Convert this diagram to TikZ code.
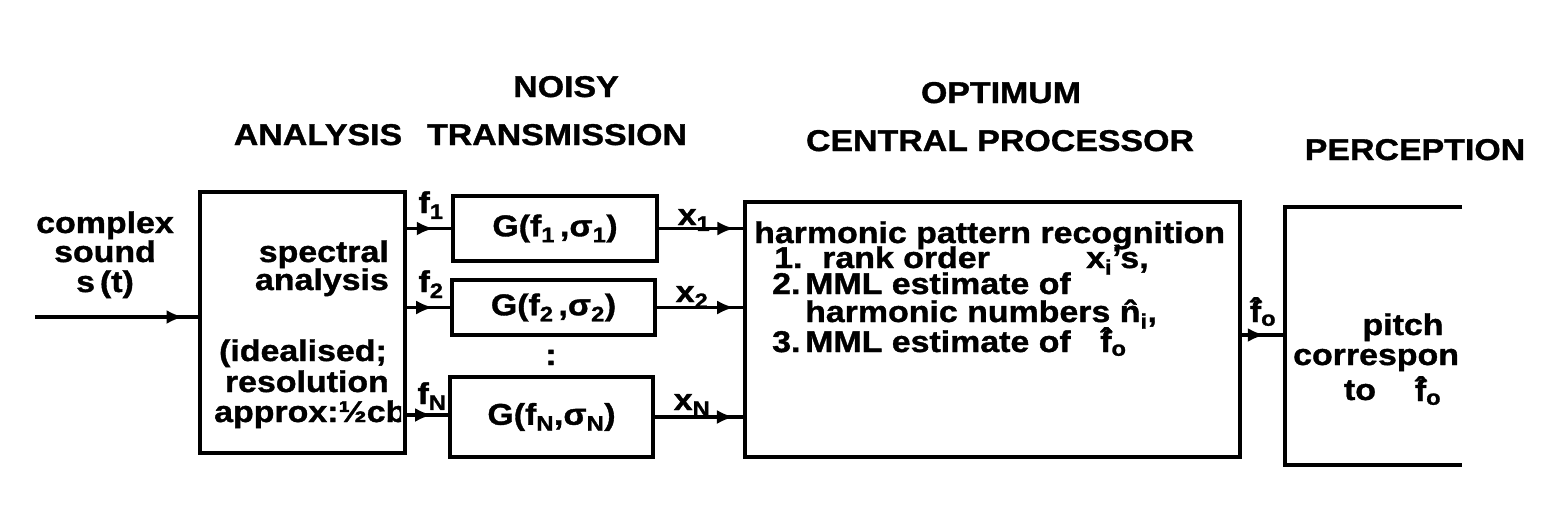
\documentclass[tikz,border=0pt]{standalone}
\usepackage{fontspec}
\setmainfont{Liberation Sans}[FakeStretch=1.13, BoldFeatures={FakeBold=1.2}]
\usetikzlibrary{arrows.meta,decorations.markings}
\newcommand\hatted[2]{\setbox0\hbox{#1}\rlap{\hbox to \wd0{\hss\raisebox{#2}{\char"02C6}\hss}}\box0}
\newcommand\hatf{\hatted{f}{0.08em}}
\newcommand\hatn{\hatted{n}{0pt}}
\begin{document}
\begin{tikzpicture}[x=1pt,y=-1pt,
  box/.style={draw, line width=4.5pt, inner sep=0pt, outer sep=0pt},
  lbl/.style={font=\fontsize{30}{26}\selectfont\bfseries, inner sep=0pt, anchor=base},
  hd/.style={font=\fontsize{30}{26}\selectfont\bfseries, inner sep=0pt, anchor=base},
  arr/.style={line width=3.8pt, postaction={decorate},
    decoration={markings, mark=at position #1 with {\arrow{Latex[length=17pt,width=14pt]}}}},
]
\useasboundingbox (0,0) rectangle (1551,507);

% headings
\node[hd] (hnoisy) at (566,97) {NOISY};
\node[hd] (hana) at (318,145) {ANALYSIS};
\node[hd] (htrans) at (557,145) {TRANSMISSION};
\node[hd] (hopt) at (1001,103) {OPTIMUM};
\node[hd] (hcent) at (1000,151) {CENTRAL PROCESSOR};
\node[hd] (hperc) at (1415,160) {PERCEPTION};

% boxes
\node[box, minimum width=205pt, minimum height=261pt] (ana) at (302.5,322.5) {};
\node[box, minimum width=204pt, minimum height=65pt] (g1) at (555,228.5) {};
\node[box, minimum width=203pt, minimum height=55pt] (g2) at (553.5,307.5) {};
\node[box, minimum width=203pt, minimum height=80pt] (gN) at (551.5,417) {};
\node[box, minimum width=495pt, minimum height=255pt] (proc) at (992.5,329.5) {};
\node[inner sep=0pt, outer sep=0pt, minimum width=177pt, minimum height=258pt] (perc) at (1373.5,336) {};
\draw[line width=4.5pt] (perc.north east) -- (perc.north west) -- (perc.south west) -- (perc.south east);

% input
\node[lbl] (in1) at (105,233) {complex};
\node[lbl] (in2) at (105,262) {sound};
\node[lbl] (in3) at (105,292) {s\,(t)};
\coordinate (src) at (35,317);
\draw[arr=0.9] (src) -- (src -| ana.west);

% analysis text
\node[lbl, anchor=base east] (a1) at (389,262) {spectral};
\node[lbl, anchor=base east] (a2) at (389,290) {analysis};
\node[lbl, anchor=base east] (a3) at (387,361) {(idealised;};
\node[lbl, anchor=base east] (a4) at (389,392) {resolution};
\begin{scope}
\clip (200,395) rectangle (401,440);
\node[lbl, anchor=base west] (a5) at (214,422) {approx:½cb};
\end{scope}

% f arrows
\draw[arr=0.6] (ana.east |- g1.west) -- (g1.west);
\draw[arr=0.6] (ana.east |- g2.west) -- (g2.west);
\draw[arr=0.6] ([yshift=2pt]ana.east |- gN.west) -- ([yshift=2pt]gN.west);
\node[lbl] (lf1) at (431,213) {f\textsubscript{1}};
\node[lbl] (lf2) at (431,292) {f\textsubscript{2}};
\node[lbl] (lfN) at (432,404) {f\textsubscript{N}};

% G texts
\node[lbl, anchor=center] (t1) at (g1) {G(f\textsubscript{1}\,,σ\textsubscript{1})};
\node[lbl, anchor=center] (t2) at (g2) {G(f\textsubscript{2}\,,σ\textsubscript{2})};
\node[lbl, anchor=center] (tN) at (gN) {G(f\textsubscript{N},σ\textsubscript{N})};
\node[lbl] (dots) at (551,365) {:};

% x arrows
\draw[arr=0.88] (g1.east) -- (g1.east -| proc.west);
\draw[arr=0.88] (g2.east) -- (g2.east -| proc.west);
\draw[arr=0.88] (gN.east) -- (gN.east -| proc.west);
\node[lbl] (lx1) at (694,225) {x\textsubscript{1}};
\node[lbl] (lx2) at (692,302) {x\textsubscript{2}};
\node[lbl] (lxN) at (692,410) {x\textsubscript{N}};

% processor text
\node[lbl, anchor=base west] (p0) at (754,243) {harmonic pattern recognition};
\node[lbl, anchor=base west] (p1a) at (774,268) {1.};
\node[lbl, anchor=base west] (p1b) at (822,268) {rank order};
\node[lbl, anchor=base west] (p1c) at (1086,268) {x\textsubscript{i}'s,};
\node[lbl, anchor=base west] (p2a) at (772,294) {2.};
\node[lbl, anchor=base west] (p2b) at (805,294) {MML estimate of};
\node[lbl, anchor=base west] (p3) at (805,322) {harmonic numbers \hatn\textsubscript{i},};
\node[lbl, anchor=base west] (p4a) at (772,352) {3.};
\node[lbl, anchor=base west] (p4b) at (805,352) {MML estimate of};
\node[lbl, anchor=base west] (p4c) at (1100,352) {\hatf\textsubscript{o}};

% output
\draw[arr=0.55] ([yshift=-5.5pt]proc.east) -- ([yshift=-5.5pt]proc.east -| perc.west);
\node[lbl] (lf0) at (1263,322) {\hatf\textsubscript{o}};

% perception text
\node[lbl] (q1) at (1403,335) {pitch};
\node[lbl, anchor=base west] (q2) at (1293,365) {correspon};
\node[lbl] (q3) at (1360,400) {to};
\node[lbl] (q4) at (1428,401) {\hatf\textsubscript{o}};
\end{tikzpicture}
\end{document}
